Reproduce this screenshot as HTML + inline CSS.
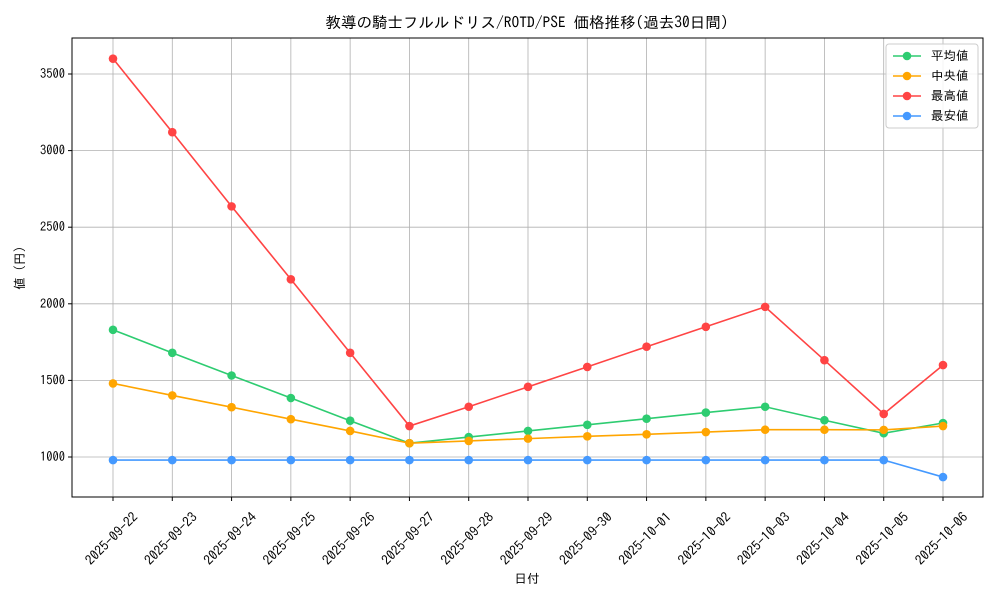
<!DOCTYPE html>
<html><head><meta charset="utf-8"><style>
body{margin:0;background:#fff;}
svg text{font-family:"IPAGothic","Noto Sans CJK JP",sans-serif;fill:#000;}
</style></head><body>
<svg id="chart" width="1000" height="600" xmlns="http://www.w3.org/2000/svg">
<rect width="1000" height="600" fill="#fff"/>
<text x="527" y="28" font-size="15.5" text-anchor="middle">教導の騎士フルルドリス/ROTD/PSE 価格推移(過去30日間)</text>
<g id="grid"></g><g id="axes"></g><g id="series"></g>
<text x="527" y="583" font-size="12.5" text-anchor="middle">日付</text>
<text transform="translate(24,268) rotate(-90)" font-size="12.5" text-anchor="middle">値 (円)</text>
<g id="legend"></g>
</svg>
<script>
const categories=["2025-09-22","2025-09-23","2025-09-24","2025-09-25","2025-09-26","2025-09-27","2025-09-28","2025-09-29","2025-09-30","2025-10-01","2025-10-02","2025-10-03","2025-10-04","2025-10-05","2025-10-06"];
const avgValues=[1830,1680,1532,1385,1237,1090,1130,1170,1210,1250,1290,1328,1240,1155,1222];
const medianValues=[1480,1402,1325,1247,1170,1090,1105,1120,1135,1148,1163,1178,1178,1177,1202];
const maxValues=[3600,3120,2636,2160,1680,1202,1328,1458,1588,1720,1850,1980,1632,1281,1600];
const minValues=[980,980,980,980,980,980,980,980,980,980,980,980,980,980,869];
const yTicks=[1000,1500,2000,2500,3000,3500];
const seriesNames=["平均値","中央値","最高値","最安値"];
const seriesColors=["#2ecc71","#ffa500","#ff4444","#4499ff"];
const NS="http://www.w3.org/2000/svg";
const L=72,R=983,T=38,B=497;
function xs(i){return 113+i*(943-113)/14;}
function ys(v){return 457-(v-1000)*(457-74)/2500;}
function mk(tag,attrs,parent){const e=document.createElementNS(NS,tag);for(const k in attrs)e.setAttribute(k,attrs[k]);parent.appendChild(e);return e;}
const grid=document.getElementById('grid'),axes=document.getElementById('axes'),ser=document.getElementById('series'),leg=document.getElementById('legend');
categories.forEach((c,i)=>{
 const x=xs(i);
 const g=mk('line',{x1:x,x2:x,y1:T,y2:B,stroke:'#b0b0b0','stroke-width':0.8},grid);
 
 
 mk('line',{x1:x,x2:x,y1:B,y2:B+4,stroke:'#000'},axes);
 const cx=x-1,cy=B+42;
 const t=mk('text',{x:cx,y:cy+4,'font-size':13.5,'text-anchor':'middle',transform:`rotate(-45 ${cx} ${cy})`},axes);
 t.textContent=c;
 
 
});
yTicks.forEach(v=>{
 const y=ys(v);
 const g=mk('line',{x1:L,x2:R,y1:y,y2:y,stroke:'#b0b0b0','stroke-width':0.8},grid);
 
 
 mk('line',{x1:L-4,x2:L,y1:y,y2:y,stroke:'#000'},axes);
 const t=mk('text',{x:L-7,y:y+4,'font-size':12.5,'text-anchor':'end'},axes);
 t.textContent=v;
 
 
});
const frame=mk('rect',{x:L,y:T,width:R-L,height:B-T,fill:'none',stroke:'#000','stroke-width':1},axes);


[avgValues,medianValues,maxValues,minValues].forEach((vals,si)=>{
 const col=seriesColors[si];
 const p=mk('polyline',{points:vals.map((v,i)=>xs(i)+','+ys(v)).join(' '),fill:'none',stroke:col,'stroke-width':1.6},ser);
 
 
 vals.forEach((v,i)=>{
  const c=mk('circle',{cx:xs(i),cy:ys(v),r:4.3,fill:col},ser);
  
  
 });
});
const lb=mk('rect',{x:886,y:44,width:92,height:84,rx:3,fill:'#fff','fill-opacity':0.85,stroke:'#ccc'},leg);


seriesNames.forEach((n,i)=>{
 const y=56+i*20;
 mk('line',{x1:893,x2:921,y1:y,y2:y,stroke:seriesColors[i],'stroke-width':1.6},leg);
 mk('circle',{cx:907,cy:y,r:4.3,fill:seriesColors[i]},leg);
 const t=mk('text',{x:931,y:y+4,'font-size':12.5},leg);
 t.textContent=n;
 
 
});
</script>
</body></html>
